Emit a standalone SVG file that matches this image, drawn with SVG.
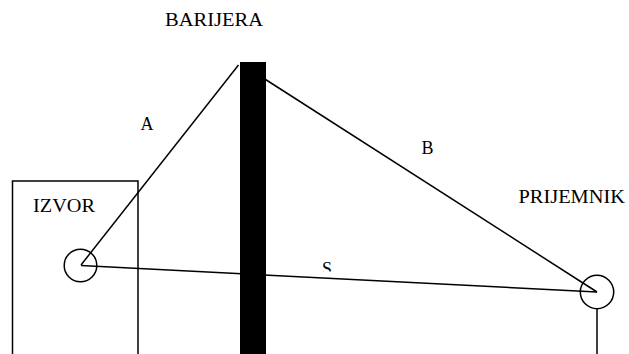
<svg xmlns="http://www.w3.org/2000/svg" width="629" height="354" viewBox="0 0 629 354">
<style>
.ln{stroke:#000;stroke-width:1.5;fill:none}
.t{font-family:"Liberation Serif","Times New Roman",serif;font-size:18px;fill:#000}
</style>
<defs>
<clipPath id="sclip"><rect x="310" y="250" width="40" height="21.5"/></clipPath>
</defs>
<rect width="629" height="354" fill="#fff"/>
<g id="izvor">
<rect class="ln" x="12.5" y="181" width="125.5" height="180"/>
<text class="t" x="33" y="212" textLength="62" lengthAdjust="spacingAndGlyphs">IZVOR</text>
</g>
<g id="connectors">
<line class="ln" x1="81" y1="265" x2="238.5" y2="65"/>
<line class="ln" x1="264" y1="78.5" x2="597" y2="292"/>
<line class="ln" x1="81" y1="265.5" x2="597" y2="292"/>
<line class="ln" x1="597" y1="308.5" x2="597" y2="354"/>
</g>
<g id="izvor-point">
<circle class="ln" cx="80.5" cy="265.5" r="16.3"/>
</g>
<g id="barijera">
<rect x="240" y="62" width="26" height="292" fill="#000"/>
<text class="t" x="165" y="26" textLength="98" lengthAdjust="spacingAndGlyphs">BARIJERA</text>
</g>
<g id="prijemnik">
<circle class="ln" cx="597" cy="292" r="16.7"/>
<text class="t" x="518.5" y="202.5" textLength="106.5" lengthAdjust="spacingAndGlyphs">PRIJEMNIK</text>
</g>
<g id="labels">
<text class="t" x="140.5" y="129.5">A</text>
<text class="t" x="421.5" y="154">B</text>
<text class="t" x="322" y="275" clip-path="url(#sclip)">S</text>
</g>
</svg>
